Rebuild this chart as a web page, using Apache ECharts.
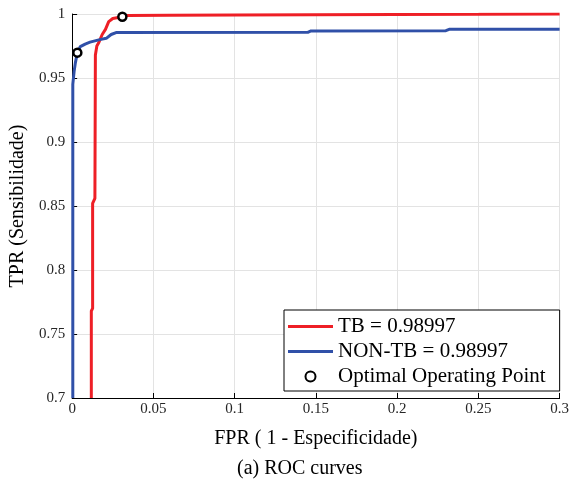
<!DOCTYPE html>
<html>
<head>
<meta charset="utf-8">
<script src="https://cdn.jsdelivr.net/npm/echarts@6/dist/echarts.min.js"></script>
<style>html,body{margin:0;padding:0;background:#fff}#c{width:572px;height:482px}</style>
</head>
<body>
<div id="c"></div>
<script>
var xTicks = [0, 0.05, 0.1, 0.15, 0.2, 0.25, 0.3];
var yTicks = [0.7, 0.75, 0.8, 0.85, 0.9, 0.95, 1];
var seriesNames = ['TB = 0.98997', 'NON-TB = 0.98997', 'Optimal Operating Point'];
var tbFPR = [0.0118, 0.0118, 0.0126, 0.0126, 0.0140, 0.0143, 0.0152, 0.0165, 0.0185, 0.0205, 0.0225, 0.0250, 0.0309, 0.0340, 0.060, 0.100, 0.148, 0.250, 0.300];
var tbTPR = [0.700, 0.768, 0.770, 0.852, 0.856, 0.968, 0.975, 0.978, 0.984, 0.988, 0.994, 0.9965, 0.9979, 0.9988, 0.9990, 0.9992, 0.9995, 0.9998, 1.000];
var nonFPR = [0.0004, 0.0004, 0.0012, 0.0020, 0.0032, 0.0050, 0.008, 0.011, 0.017, 0.021, 0.024, 0.027, 0.145, 0.147, 0.230, 0.232, 0.300];
var nonTPR = [0.700, 0.945, 0.955, 0.962, 0.9698, 0.9745, 0.9765, 0.978, 0.980, 0.981, 0.984, 0.9855, 0.9857, 0.9868, 0.9870, 0.9880, 0.9880];
var optFPR = [0.0309, 0.0032];
var optTPR = [0.9979, 0.9698];

function zip(a, b) { return a.map(function (v, i) { return [v, b[i]]; }); }

var serif = 'Liberation Serif';
var lineIcon = 'path://M0,0H45V3H0Z';
var chart = echarts.init(document.getElementById('c'), null, {renderer: 'canvas'});
chart.setOption({
  backgroundColor: '#ffffff',
  animation: false,
  title: {
    text: '(a) ROC curves',
    left: 232, top: 454,
    textStyle: {fontFamily: serif, fontSize: 20, fontWeight: 'normal', color: '#000'}
  },
  grid: {left: 72, right: 8, top: 14, bottom: 84},
  legend: {
    orient: 'vertical',
    left: 284, top: 310,
    padding: [6, 14, 4, 4],
    itemGap: 4,
    itemWidth: 45,
    itemHeight: 10,
    itemTextGap: 3,
    symbolKeepAspect: true,
    borderColor: '#000', borderWidth: 1,
    backgroundColor: '#fff',
    textStyle: {fontFamily: serif, fontSize: 21, color: '#000'},
    data: [
      {name: seriesNames[0], icon: lineIcon},
      {name: seriesNames[1], icon: lineIcon},
      {name: seriesNames[2]}
    ]
  },
  xAxis: {
    type: 'value', min: xTicks[0], max: xTicks[xTicks.length - 1], interval: 0.05,
    name: 'FPR ( 1 - Especificidade)', nameLocation: 'middle', nameGap: 31,
    nameTextStyle: {fontFamily: serif, fontSize: 20, color: '#000'},
    axisLine: {show: true, onZero: false, lineStyle: {color: '#000', width: 1}},
    axisTick: {show: true, inside: true, length: 5, lineStyle: {color: '#000'}},
    axisLabel: {margin: 4, fontFamily: serif, fontSize: 15, color: '#262626'},
    splitLine: {show: true, lineStyle: {color: '#e3e3e3', width: 1}}
  },
  yAxis: {
    type: 'value', min: yTicks[0], max: yTicks[yTicks.length - 1], interval: 0.05,
    name: 'TPR (Sensibilidade)', nameLocation: 'middle', nameGap: 41,
    nameTextStyle: {fontFamily: serif, fontSize: 20, color: '#000'},
    axisLine: {show: true, onZero: false, lineStyle: {color: '#000', width: 1}},
    axisTick: {show: true, inside: true, length: 5, lineStyle: {color: '#000'}},
    axisLabel: {margin: 7, fontFamily: serif, fontSize: 15, color: '#262626'},
    splitLine: {show: true, lineStyle: {color: '#e3e3e3', width: 1}}
  },
  series: [
    {
      name: seriesNames[0], type: 'line', data: zip(tbFPR, tbTPR),
      symbol: 'none', showSymbol: false, clip: true,
      lineStyle: {color: '#ee1f26', width: 3},
      itemStyle: {color: '#ee1f26'}
    },
    {
      name: seriesNames[1], type: 'line', data: zip(nonFPR, nonTPR),
      symbol: 'none', showSymbol: false, clip: true,
      lineStyle: {color: '#3050a8', width: 3},
      itemStyle: {color: '#3050a8'}
    },
    {
      name: seriesNames[2], type: 'scatter', data: zip(optFPR, optTPR),
      symbol: 'circle', symbolSize: 8, z: 5,
      itemStyle: {color: '#ffffff', borderColor: '#000', borderWidth: 2.5, opacity: 1}
    }
  ]
});
</script>
</body>
</html>
